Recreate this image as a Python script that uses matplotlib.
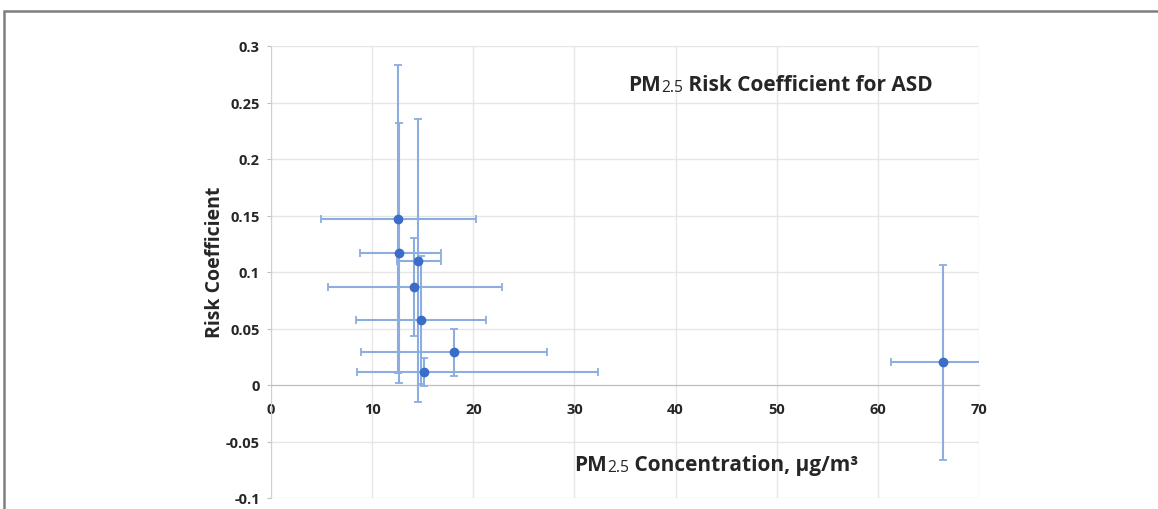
import numpy as np
import matplotlib
matplotlib.use("Agg")
import matplotlib.pyplot as plt
from matplotlib.patches import Rectangle

# values
pm = [12.56, 12.66, 14.5, 14.1, 14.8, 18.1, 15.1, 66.4]
risk = [0.147, 0.117, 0.110, 0.087, 0.0575, 0.029, 0.0115, 0.020]
pm_err_lo = [7.6, 3.9, 2.0, 8.5, 6.4, 9.2, 6.6, 5.1]
pm_err_hi = [7.7, 4.1, 2.3, 8.7, 6.5, 9.2, 17.2, 5.1]
risk_err = [0.136, 0.115, 0.125, 0.0435, 0.057, 0.021, 0.0125, 0.086]

x_ticks = [0, 10, 20, 30, 40, 50, 60, 70]
y_ticks = [-0.1, -0.05, 0, 0.05, 0.1, 0.15, 0.2, 0.25, 0.3]
y_tick_labels = ["-0.1", "-0.05", "0", "0.05", "0.1", "0.15", "0.2", "0.25", "0.3"]

plt.rcParams['font.family'] = ['Open Sans', 'DejaVu Sans']
txt_color = '#262626'

W, H = 1158, 510
fig = plt.figure(figsize=(W / 100, H / 100), dpi=100)
ax = fig.add_axes([271 / W, 1 - 499 / H, (979 - 271) / W, (499 - 47) / H])

ax.errorbar(pm, risk, yerr=risk_err, xerr=[pm_err_lo, pm_err_hi], fmt='none',
            ecolor='#8cade0', elinewidth=1.5, capsize=3, capthick=1.3, zorder=3)
ax.plot(pm, risk, 'o', color='#3a6cc9', markersize=6, zorder=4)

ax.set_xlim(0, 70)
ax.set_ylim(-0.1, 0.3)
ax.set_xticks(x_ticks)
ax.set_yticks(y_ticks)
ax.set_yticklabels(y_tick_labels)
ax.grid(True, color='#e6e6e6', linewidth=1)
ax.set_axisbelow(True)

for s in ['top', 'right']:
    ax.spines[s].set_visible(False)
ax.spines['bottom'].set_position(('data', 0))
ax.spines['bottom'].set_color('#bfbfbf')
ax.spines['left'].set_color('#d0d0d0')
ax.tick_params(axis='x', length=0, pad=12, labelsize=10.5, labelcolor=txt_color)
ax.tick_params(axis='y', length=3, color='#bfbfbf', pad=5, labelsize=10.5, labelcolor=txt_color)
for lab in ax.get_xticklabels() + ax.get_yticklabels():
    lab.set_fontweight('bold')


def pm_text(x, y, rest, size):
    t1 = ax.text(x, y, "PM", fontsize=size, fontweight='bold', color=txt_color, va='bottom')
    t2 = ax.annotate("2.5", xy=(1, 0), xycoords=t1, fontsize=size * 0.75,
                     color=txt_color, va='bottom')
    ax.annotate(rest, xy=(1, 0), xycoords=t2, fontsize=size, fontweight='bold',
                color=txt_color, va='bottom')


pm_text(35.3, 0.257, " Risk Coefficient for ASD", 15)
pm_text(30.0, -0.080, " Concentration, \u00b5g/m\u00b3", 15)

fig.text(215 / W, 1 - 262 / H, "Risk Coefficient", rotation=90, ha='center', va='center',
         fontsize=14, fontweight='bold', color=txt_color)

# outer frame of the figure panel
fig.patches.append(Rectangle((4 / W, -0.1), 1.2, 1 - 12 / H + 0.1, transform=fig.transFigure,
                             fill=False, edgecolor='#7f7f7f', linewidth=1.8))

fig.savefig("out.png", dpi=100)
